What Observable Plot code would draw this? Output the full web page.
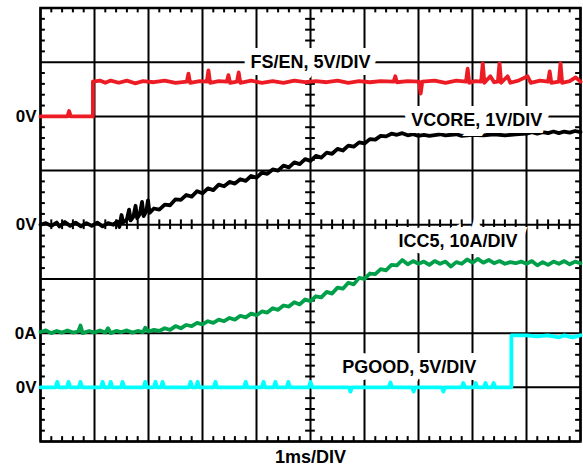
<!DOCTYPE html>
<html><head><meta charset="utf-8">
<script src="https://cdn.jsdelivr.net/npm/d3@7"></script>
<script src="https://cdn.jsdelivr.net/npm/@observablehq/plot@0.6"></script>
<style>body{margin:0;background:#fff} svg{display:block}</style>
</head><body><div id="chart"></div>
<script>
// ---- data (time in ms, values in V or A) ----
const fsEn = [[0,0],[0.5,0],[0.53,0.5],[0.56,0],[0.97,0],[0.97,3.2],
 [1.1,3.3],[1.2,3.1],[1.3,3.3],[1.45,3.1],[1.6,3.3],[1.75,3.05],[1.9,3.25],[2.1,3.15],[2.3,3.3],[2.5,3.1],
 [2.71,3.2],[2.74,3.95],[2.77,3.1],[2.95,3.25],[3.08,3.2],[3.11,4.25],[3.14,3.1],[3.3,3.25],[3.45,3.2],[3.48,3.8],[3.51,3.1],
 [3.64,3.2],[3.67,4.05],[3.7,3.1],[3.9,3.3],[4.1,3.1],[4.3,3.25],[4.5,3.1],[4.7,3.3],[4.9,3.15],[5.1,3.25],[5.3,3.15],
 [5.5,3.3],[5.7,3.1],[5.9,3.25],[6.1,3.15],[6.3,3.25],[6.54,3.2],[6.57,3.7],[6.6,3.15],[6.8,3.25],[7.01,3.2],[7.04,2.1],
 [7.07,3.2],[7.3,3.3],[7.5,3.1],[7.7,3.3],[7.88,3.2],[7.91,4.4],[7.94,3.1],[8.05,3.25],[8.16,3.2],[8.19,4.9],[8.22,3.1],
 [8.33,3.7],[8.4,3.15],[8.47,3.2],[8.5,4.9],[8.53,3.1],[8.65,3.7],[8.7,3.1],[8.85,3.3],[9.02,3.7],[9.08,3.1],[9.25,3.3],
 [9.4,3.2],[9.43,4.15],[9.46,3.1],[9.6,3.2],[9.63,4.9],[9.66,3.1],[9.8,3.25],[9.91,3.6],[10,3.2]];

const vcore = [[0,0],[0.1,0.03],[0.2,-0.02],[0.3,0.04],[0.35,-0.03],[0.45,0.05],[0.55,-0.02],[0.65,0.04],[0.75,-0.03],
 [0.85,0.03],[0.95,-0.02],[1.05,0.04],[1.15,-0.03],[1.25,0.03],[1.35,0],[1.42,0.06],[1.46,-0.04],[1.5,0.18],[1.53,0.04],
 [1.6,0.1],[1.64,0.28],[1.67,0.08],[1.72,0.15],[1.76,0.35],[1.79,0.12],[1.84,0.2],[1.88,0.42],[1.91,0.16],[1.96,0.25],
 [1.99,0.45],[2.02,0.22],[2.1,0.3],[2.2,0.28],[2.3,0.37],[2.4,0.36],[2.5,0.47],[2.6,0.46],[2.7,0.55],[2.8,0.52],[2.9,0.62],
 [3.0,0.58],[3.1,0.67],[3.2,0.64],[3.3,0.74],[3.4,0.71],[3.5,0.79],[3.6,0.76],[3.7,0.84],[3.8,0.81],[3.9,0.9],[4.0,0.87],
 [4.1,0.96],[4.2,0.94],[4.3,1.02],[4.4,1.0],[4.5,1.09],[4.6,1.06],[4.7,1.15],[4.8,1.12],[4.9,1.21],[5.0,1.18],[5.1,1.27],
 [5.2,1.24],[5.3,1.33],[5.4,1.31],[5.5,1.4],[5.6,1.37],[5.7,1.46],[5.8,1.44],[5.9,1.52],[6.0,1.5],[6.1,1.58],[6.2,1.57],
 [6.3,1.64],[6.4,1.63],[6.5,1.68],[6.6,1.66],[6.7,1.69],[6.8,1.65],[6.9,1.67],[7.0,1.64],[7.1,1.66],[7.2,1.64],[7.4,1.67],
 [7.5,1.65],[7.7,1.67],[7.8,1.64],[8.0,1.66],[8.2,1.65],[8.4,1.67],[8.6,1.65],[8.8,1.67],[9.0,1.68],[9.1,1.71],[9.2,1.68],
 [9.3,1.71],[9.4,1.69],[9.5,1.72],[9.6,1.69],[9.7,1.72],[9.8,1.7],[9.9,1.73],[10,1.71]];

const icc5 = [[0,0.2],[0.1,0.5],[0.2,0],[0.3,0.4],[0.4,0.1],[0.5,0.5],[0.6,0.1],[0.7,0.3],[0.74,1.4],[0.78,0],[0.9,0.4],
 [1.0,0.1],[1.1,0.5],[1.2,0.1],[1.25,0.9],[1.3,0],[1.4,0.4],[1.5,0.2],[1.6,0.5],[1.7,0.1],[1.8,0.4],[1.9,0.2],[1.94,1.0],
 [2.0,0.3],[2.1,0.6],[2.2,0.4],[2.3,0.9],[2.4,0.6],[2.5,1.3],[2.6,0.9],[2.7,1.5],[2.8,1.3],[2.9,1.9],[3.0,1.6],[3.1,2.2],
 [3.2,1.9],[3.3,2.5],[3.4,2.2],[3.5,2.8],[3.6,2.5],[3.7,3.2],[3.8,2.9],[3.9,3.6],[4.0,3.3],[4.1,4.0],[4.2,3.8],[4.3,4.6],
 [4.4,4.3],[4.5,5.1],[4.6,4.9],[4.7,5.7],[4.8,5.3],[4.9,6.2],[5.0,5.9],[5.1,6.8],[5.2,6.6],[5.3,7.6],[5.4,7.3],[5.5,8.4],
 [5.6,8.2],[5.7,9.3],[5.8,9.0],[5.9,10.2],[6.0,10.0],[6.1,11.0],[6.2,10.9],[6.3,11.8],[6.4,11.6],[6.5,12.6],[6.6,12.5],
 [6.7,13.5],[6.8,12.7],[6.9,13.3],[7.0,12.8],[7.1,13.2],[7.2,12.6],[7.3,13.3],[7.4,12.8],[7.5,13.2],[7.6,12.3],[7.7,13.1],
 [7.8,12.8],[7.9,13.6],[8.0,13.0],[8.1,13.7],[8.2,13.0],[8.3,13.5],[8.4,12.9],[8.5,13.3],[8.6,12.8],[8.7,13.1],[8.8,12.9],
 [8.9,13.2],[9.0,12.8],[9.1,13.3],[9.2,12.5],[9.3,13.1],[9.4,12.6],[9.5,13.2],[9.6,12.8],[9.7,13.3],[9.8,12.7],[9.9,13.2],
 [10,12.9]];

const pgood = [[0,0],[0.28,0],[0.31,0.5],[0.34,0],[0.49,0],[0.52,0.5],[0.55,0],[0.71,0],[0.74,0.5],[0.77,0],
 [1.12,0],[1.15,0.5],[1.18,0],[1.27,0],[1.3,0.5],[1.33,0],[1.49,0],[1.52,0.5],[1.55,0],[1.91,0],[1.94,0.5],[1.97,0],
 [2.1,0],[2.13,0.5],[2.16,0],[2.23,0],[2.26,0.5],[2.29,0],[2.75,0],[2.78,0.5],[2.81,0],[2.88,0],[2.91,0.5],[2.94,0],
 [3.21,0],[3.24,0.5],[3.27,0],[3.77,0],[3.8,0.5],[3.83,0],[4.1,0],[4.13,0.5],[4.16,0],[4.32,0],[4.35,0.5],[4.38,0],
 [4.56,0],[4.59,0.5],[4.62,0],[4.97,0],[5.0,0.5],[5.03,0],[5.71,0],[5.74,-0.4],[5.77,0],[6.45,0],[6.48,0.45],[6.51,0],
 [6.88,0],[6.91,-0.4],[6.94,0],[7.43,0],[7.46,-0.4],[7.49,0],[7.8,0],[7.83,0.4],[7.86,0],[8.03,0],[8.06,0.4],[8.09,0],
 [8.21,0],[8.24,0.4],[8.27,0],[8.36,0],[8.39,0.4],[8.42,0],[8.72,0],[8.72,4.8],[9.0,4.8],[9.2,4.7],[9.4,4.8],
 [9.6,4.6],[9.7,4.8],[9.85,4.6],[10,4.8]];

// ---- trace configuration: zero level (division) and units per division ----
const traces = [
  {data: fsEn,  zero: 6, perDiv: 5,  color: "#ed1c24", unit: "V", label: "FS/EN, 5V/DIV",  lx: 5.0,  ly: 7.0},
  {data: vcore, zero: 4, perDiv: 1,  color: "#000000", unit: "V", label: "VCORE, 1V/DIV",  lx: 8.08, ly: 5.93},
  {data: icc5,  zero: 2, perDiv: 10, color: "#00a04b", unit: "A", label: "ICC5, 10A/DIV",  lx: 7.73, ly: 3.69},
  {data: pgood, zero: 1, perDiv: 5,  color: "#00ffff", unit: "V", label: "PGOOD, 5V/DIV",  lx: 6.83, ly: 1.37}
];
const xDivs = d3.range(0, 11);
const yDivs = d3.range(0, 9);
const xLabel = "1ms/DIV";

const L = 0.09; // minor tick half-length in divisions
const minorX = d3.range(0, 50).map(i => i / 5).filter(v => v % 1 !== 0);
const minorY = d3.range(0, 40).map(i => i / 5).filter(v => v % 1 !== 0);

const lineMarks = traces.map(tr => Plot.line(tr.data, {
  x: d => d[0], y: d => tr.zero + d[1] / tr.perDiv,
  stroke: tr.color, strokeWidth: 3.8, strokeLinejoin: "round"
}));

const font = "'Liberation Sans', Arial, Helvetica, sans-serif";

const chart = Plot.plot({
  width: 583, height: 466,
  marginTop: 7.5, marginBottom: 25, marginLeft: 40, marginRight: 3,
  x: {domain: [0, 10], axis: null},
  y: {domain: [0, 8], axis: null},
  style: {fontFamily: font, background: "white", overflow: "visible"},
  marks: [
    Plot.ruleX(xDivs, {x: d => d, stroke: "black", strokeWidth: 2}),
    Plot.ruleY(yDivs, {y: d => d, stroke: "black", strokeWidth: 2}),
    Plot.ruleX(minorX, {x: d => d, y1: d => 8, y2: d => 8 - L, stroke: "black", strokeWidth: 2}),
    Plot.ruleX(minorX, {x: d => d, y1: d => 0, y2: d => L, stroke: "black", strokeWidth: 2}),
    Plot.ruleX(minorX, {x: d => d, y1: d => 4 - L, y2: d => 4 + L, stroke: "black", strokeWidth: 2}),
    Plot.ruleY(minorY, {y: d => d, x1: d => 0, x2: d => L, stroke: "black", strokeWidth: 2}),
    Plot.ruleY(minorY, {y: d => d, x1: d => 10 - L, x2: d => 10, stroke: "black", strokeWidth: 2}),
    Plot.ruleY(minorY, {y: d => d, x1: d => 5 - L, x2: d => 5 + L, stroke: "black", strokeWidth: 2}),
    Plot.frame({stroke: "black", strokeWidth: 2.5}),
    ...lineMarks,
    Plot.text(traces, {x: d => d.lx, y: d => d.ly, text: d => d.label, fontSize: 18, fontWeight: "bold",
      fill: "black", stroke: "white", strokeWidth: 14, paintOrder: "stroke", strokeLinejoin: "miter"}),
    Plot.text(traces, {x: d => 0, y: d => d.zero, text: d => "0" + d.unit, textAnchor: "end", dx: -4,
      fontSize: 17, fontWeight: "bold", fill: "black"}),
    Plot.text([xLabel], {x: d => 5, frameAnchor: "bottom", text: d => d, dy: 15.5, lineAnchor: "middle",
      fontSize: 18, fontWeight: "bold", fill: "black"})
  ]
});
document.getElementById("chart").append(chart);
</script></body></html>
